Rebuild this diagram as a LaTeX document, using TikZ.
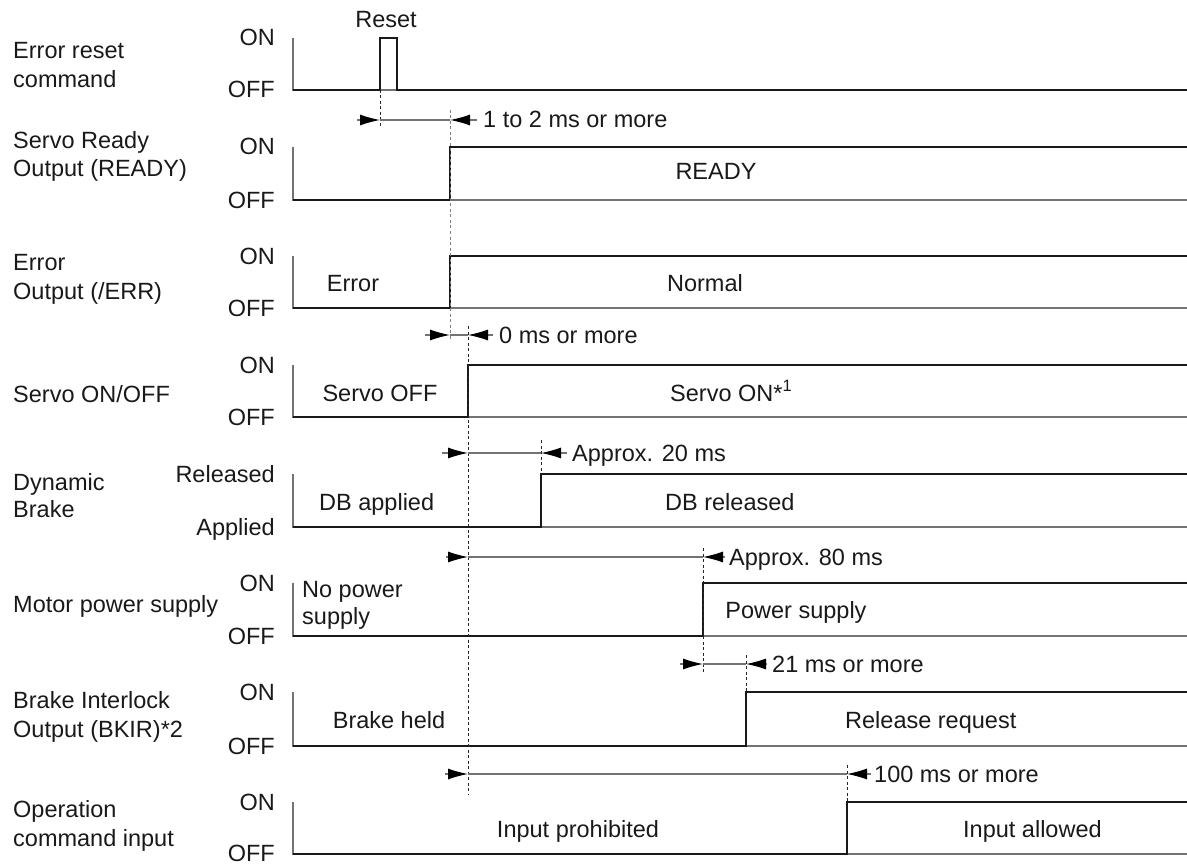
\documentclass[tikz,border=0pt]{standalone}
\usepackage{fontspec}
\setmainfont{Liberation Sans}
\usetikzlibrary{arrows.meta}
\newcommand\dfont{\fontsize{23.5}{29}\selectfont}
\begin{document}
\begin{tikzpicture}[x=1pt,y=-1pt,
  sig/.style={line width=2pt,black!90,line join=miter,line cap=butt},
  axis/.style={line width=1.1pt,black!55},
  dim/.style={line width=1.1pt,black!55},
  vd/.style={line width=1pt,black!85,dash pattern=on 3pt off 2.5pt},
  lbl/.style={font=\dfont,text=black!90,inner sep=0pt}]
\useasboundingbox (0,0) rectangle (1187,864);

% axes
\foreach \t/\b in {38/90,147/200,256/308,365/417,474/527,583/636,692/746,802/854}{
  \draw[axis] (293,\t) -- (293,\b) -- (1187,\b);
}

% signals
\draw[sig,line width=1.6pt] (293,90) -- (380,90) -- (380,38) -- (397,38) -- (397,90) -- (1187,90);
\draw[sig] (293,200) -- (450,200) -- (450,147) -- (1187,147);
\draw[sig] (293,308) -- (450,308) -- (450,256) -- (1187,256);
\draw[sig] (293,417) -- (468,417) -- (468,365) -- (1187,365);
\draw[sig] (293,527) -- (541,527) -- (541,474) -- (1187,474);
\draw[sig] (293,636) -- (703,636) -- (703,583) -- (1187,583);
\draw[sig] (293,746) -- (746,746) -- (746,692) -- (1187,692);
\draw[sig] (293,854) -- (847,854) -- (847,802) -- (1187,802);

% dashed reference lines
\draw[vd] (380,90) -- (380,128);
\draw[vd,black!50] (450,110) -- (450,340);
\draw[vd] (468,326) -- (468,795);
\draw[vd] (541,440) -- (541,474);
\draw[vd] (703,548) -- (703,673);
\draw[vd] (746,655) -- (746,692);
\draw[vd] (847,765) -- (847,802);

% dimension arrows
\foreach \i/\y/\lt/\ld/\rd/\rt/\tx/\txt in {
  1/120/357/380/450/477/483/{1 to 2 ms or more},
  2/335/425/450/468/493/499/{0 ms or more},
  3/453/442/468/541/567/572/{Approx. 20 ms},
  4/557/446/468/703/725/729/{Approx. 80 ms},
  5/664/680/703/746/767/772/{21 ms or more},
  6/774/445/468/847/871/874/{100 ms or more}}{
  \coordinate (lt\i) at (\lt,\y);
  \coordinate (ld\i) at (\ld,\y);
  \coordinate (rd\i) at (\rd,\y);
  \coordinate (rt\i) at (\rt,\y);
  \draw[dim] (ld\i) -- (rd\i);
  \draw[dim,-{Latex[length=20pt,width=11pt,black]}] (lt\i) -- (ld\i);
  \draw[dim,-{Latex[length=20pt,width=11pt,black]}] (rt\i) -- (rd\i);
  \node[lbl,anchor=base west] (dt\i) at (\tx,\y+8) {\txt};
}

% left labels
\node[lbl,anchor=base west] (n1a) at (13,59) {Error reset};
\node[lbl,anchor=base west] (n1b) at (13,88) {command};
\node[lbl,anchor=base west] (n2a) at (13,149) {Servo Ready};
\node[lbl,anchor=base west] (n2b) at (13,177) {Output (READY)};
\node[lbl,anchor=base west] (n3a) at (13,270) {Error};
\node[lbl,anchor=base west] (n3b) at (13,299) {Output (/ERR)};
\node[lbl,anchor=base west] (n4a) at (13,402) {Servo ON/OFF};
\node[lbl,anchor=base west] (n5a) at (13,490) {Dynamic};
\node[lbl,anchor=base west] (n5b) at (13,517) {Brake};
\node[lbl,anchor=base west] (n6a) at (13,612) {Motor power supply};
\node[lbl,anchor=base west] (n7a) at (13,708) {Brake Interlock};
\node[lbl,anchor=base west] (n7b) at (13,737) {Output (BKIR)*2};
\node[lbl,anchor=base west] (n8a) at (13,817) {Operation};
\node[lbl,anchor=base west] (n8b) at (13,846) {command input};

% level labels
\foreach \i/\t/\b/\hi/\lo in {1/38/90/ON/OFF,2/147/200/ON/OFF,3/256/308/ON/OFF,4/365/417/ON/OFF,
  5/474/527/Released/Applied,6/583/636/ON/OFF,7/692/746/ON/OFF,8/802/853/ON/OFF}{
  \node[lbl,anchor=base east] (hi\i) at (275,\t+8) {\hi};
  \node[lbl,anchor=base east] (lo\i) at (275,\b+8) {\lo};
}

% state labels
\node[lbl,anchor=base] (reset) at (386,28) {Reset};
\node[lbl,anchor=base] (ready) at (716,180) {READY};
\node[lbl,anchor=base] (err) at (353,291) {Error};
\node[lbl,anchor=base] (normal) at (705,291) {Normal};
\node[lbl,anchor=base] (soff) at (380,401) {Servo OFF};
\node[lbl,anchor=base west] (son) at (670,401) {Servo ON*\textsuperscript{1}};
\node[lbl,anchor=base west] (dba) at (319,510) {DB applied};
\node[lbl,anchor=base west] (dbr) at (665,510) {DB released};
\node[lbl,anchor=base west] (npa) at (302,597) {No power};
\node[lbl,anchor=base west] (npb) at (302,624) {supply};
\node[lbl,anchor=base] (ps) at (796,618) {Power supply};
\node[lbl,anchor=base] (bh) at (389,728) {Brake held};
\node[lbl,anchor=base west] (rr) at (845,728) {Release request};
\node[lbl,anchor=base] (ip) at (578,837) {Input prohibited};
\node[lbl,anchor=base west] (ia) at (963,837) {Input allowed};
\end{tikzpicture}
\end{document}
